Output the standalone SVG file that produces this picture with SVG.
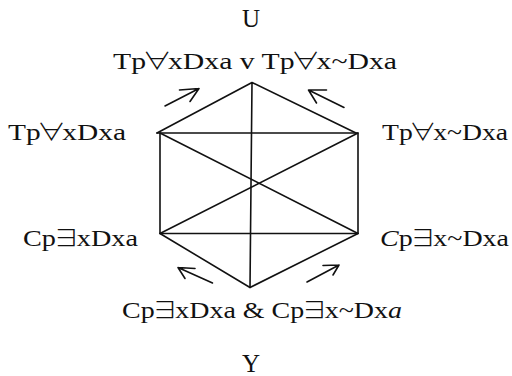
<svg xmlns="http://www.w3.org/2000/svg" width="512" height="376" viewBox="0 0 512 376">
<style>
  .ln { stroke: #111; stroke-width: 1.6; fill: none; stroke-linecap: round; stroke-linejoin: round; }
  .lbl { font-family: "Liberation Serif", "DejaVu Serif", serif; font-size: 23px; fill: #111; }
  .big { font-size: 25px; }
  .it { font-style: italic; }
  .q { font-family: "Noto Sans CJK JP", "DejaVu Sans", sans-serif; font-weight: 300; }
</style>
<rect width="512" height="376" fill="#fff"/>
<g id="connectors">
  <path class="ln" d="M252,82.5 L157,133 M252,82.5 L356,133 M252,82.5 L250,287.5"/>
  <path class="ln" d="M157,133 L358,133 M160,133 L160,233.5 M358,133 L358,233.5 M160,233.5 L358,233.5"/>
  <path class="ln" d="M160,133 L358,233.5 M160,233.5 L358,133"/>
  <path class="ln" d="M160,233.5 L250,287.5 L358,233.5"/>
  <path class="ln" d="M165,106 L199,88.5 M179.5,90 L199,88.5 L190,101.5"/>
  <path class="ln" d="M344,107.5 L308.5,90 M326.5,90 L308.5,90 L316.5,103"/>
  <path class="ln" d="M212.5,283 L178,267.5 M195,268.5 L178,267.5 L185,278.5"/>
  <path class="ln" d="M307,282 L339,265 M323,265.5 L339,265 L333,275"/>
</g>
<g id="node-U"><text class="lbl big" x="251" y="27" text-anchor="middle">U</text></g>
<g id="node-top"><text class="lbl" x="113" y="69" textLength="284" lengthAdjust="spacingAndGlyphs">Tp<tspan class="q" dx="-3">∀</tspan><tspan dx="-3">xDxa v Tp</tspan><tspan class="q" dx="-3">∀</tspan><tspan dx="-3">x~Dxa</tspan></text></g>
<g id="node-left-upper"><text class="lbl" x="8" y="140" textLength="118" lengthAdjust="spacingAndGlyphs">Tp<tspan class="q" dx="-3">∀</tspan><tspan dx="-3">xDxa</tspan></text></g>
<g id="node-right-upper"><text class="lbl" x="382" y="140" textLength="126" lengthAdjust="spacingAndGlyphs">Tp<tspan class="q" dx="-3">∀</tspan><tspan dx="-3">x~Dxa</tspan></text></g>
<g id="node-left-lower"><text class="lbl" x="23" y="246" textLength="115" lengthAdjust="spacingAndGlyphs">Cp<tspan class="q" dx="-3">∃</tspan><tspan dx="-3">xDxa</tspan></text></g>
<g id="node-right-lower"><text class="lbl" x="380" y="246" textLength="129" lengthAdjust="spacingAndGlyphs"><tspan class="it">C</tspan>p<tspan class="q" dx="-3">∃</tspan><tspan dx="-3">x~Dxa</tspan></text></g>
<g id="node-bottom"><text class="lbl" x="122" y="318" textLength="280" lengthAdjust="spacingAndGlyphs">Cp<tspan class="q" dx="-3">∃</tspan><tspan dx="-3">xDxa &amp; Cp</tspan><tspan class="q" dx="-3">∃</tspan><tspan dx="-3">x~Dx</tspan><tspan class="it">a</tspan></text></g>
<g id="node-Y"><text class="lbl big" x="251" y="372" text-anchor="middle">Y</text></g>
</svg>
